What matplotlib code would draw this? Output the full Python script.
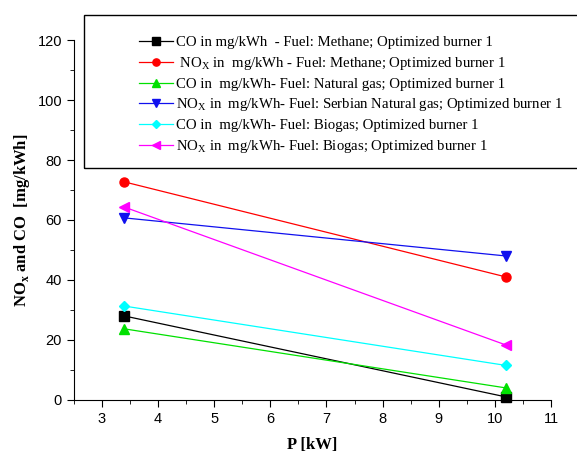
import matplotlib
matplotlib.use("Agg")
import matplotlib.pyplot as plt
from matplotlib.patches import Rectangle
from matplotlib.ticker import MultipleLocator

# power [kW]
power = [3.4, 10.2]

co_methane = [28.0, 1.0]
nox_methane = [72.7, 41.0]
co_natgas = [23.7, 4.0]
nox_serbian = [60.7, 48.0]
co_biogas = [31.3, 11.5]
nox_biogas = [64.3, 18.3]

labels = [
    "CO in mg/kWh  - Fuel: Methane; Optimized burner 1",
    r" NO$_\mathregular{X}$ in  mg/kWh - Fuel: Methane; Optimized burner 1",
    "CO in  mg/kWh- Fuel: Natural gas; Optimized burner 1",
    r"NO$_\mathregular{X}$ in  mg/kWh- Fuel: Serbian Natural gas; Optimized burner 1",
    "CO in  mg/kWh- Fuel: Biogas; Optimized burner 1",
    r"NO$_\mathregular{X}$ in  mg/kWh- Fuel: Biogas; Optimized burner 1",
]

plt.rcParams["mathtext.fontset"] = "custom"
plt.rcParams["mathtext.rm"] = "Liberation Serif"

fig = plt.figure(figsize=(5.77, 4.55), dpi=100)
ax = fig.add_axes([0.128, 0.121, 0.827, 0.791])

series = [
    (co_methane, "black", "s"),
    (nox_methane, "red", "o"),
    (co_natgas, "#00e000", "^"),
    (nox_serbian, "#1010ee", "v"),
    (co_biogas, "cyan", "D"),
    (nox_biogas, "magenta", "<"),
]
handles = []
for (vals, col, mk), lab in zip(series, labels):
    ms = 5.5 if mk == "D" else 6.5
    h, = ax.plot(power, vals, color=col, marker=mk, markersize=ms, lw=0.9,
                 markeredgecolor=col, label=lab, clip_on=False, zorder=3)
    handles.append(h)

ax.set_xlim(2.5, 11)
ax.set_ylim(0, 120)
ax.xaxis.set_major_locator(MultipleLocator(1))
ax.xaxis.set_minor_locator(MultipleLocator(0.5))
ax.yaxis.set_major_locator(MultipleLocator(20))
ax.yaxis.set_minor_locator(MultipleLocator(10))
ax.spines["top"].set_visible(False)
ax.spines["right"].set_visible(False)
ax.tick_params(which="major", direction="out", length=5, labelsize=10.5)
ax.tick_params(which="minor", direction="out", length=3)
for t in ax.get_xticklabels() + ax.get_yticklabels():
    t.set_fontfamily("Liberation Sans")

ax.set_xlabel("P [kW]", fontfamily="Liberation Serif", fontweight="bold", fontsize=12,
              labelpad=8)
ax.set_ylabel(r"NO$_\mathregular{x}$ and CO  [mg/kWh]", fontfamily="Liberation Serif",
              fontweight="bold", fontsize=12)

# legend box that runs off the right edge like the original
fig.patches.append(Rectangle((84 / 577, 1 - 168 / 455), 0.9, (168 - 15) / 455,
                             transform=fig.transFigure, fill=False,
                             edgecolor="black", lw=1.0))
leg = fig.legend(handles=handles, loc="upper left", bbox_to_anchor=(133 / 577, 1 - 30 / 455),
                 frameon=False, prop={"family": "Liberation Serif", "size": 10.6},
                 handlelength=2.3, handletextpad=0.2, labelspacing=0.38, borderaxespad=0,
                 markerscale=0.8)

plt.savefig("out.png", dpi=100)
